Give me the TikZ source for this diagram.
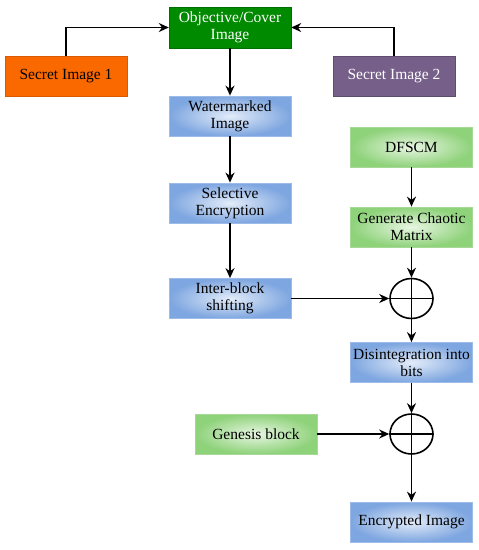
\documentclass[tikz,border=0pt]{standalone}
\usepackage{fontspec}
\setmainfont{Liberation Serif}
\usetikzlibrary{arrows.meta,shapes.geometric}
\definecolor{cvgreen}{HTML}{008A00}
\definecolor{cvgreenb}{HTML}{006E00}
\definecolor{sorange}{HTML}{FA6800}
\definecolor{sorangeb}{HTML}{D95A00}
\definecolor{spurple}{HTML}{76608A}
\definecolor{spurpleb}{HTML}{5E4D6E}
\definecolor{bout}{HTML}{7EA6E0}
\definecolor{bin}{HTML}{E3ECF9}
\definecolor{bborder}{HTML}{9DBBE8}
\definecolor{gout}{HTML}{8ED27A}
\definecolor{gin}{HTML}{E8F6E2}
\definecolor{gborder}{HTML}{A6D995}
\begin{document}
\begin{tikzpicture}[x=1pt,y=-1pt,
  box/.style={rectangle,minimum width=122pt,minimum height=40pt,inner sep=1pt,
    align=center,font=\fontsize{15.5}{17}\selectfont},
  bluebox/.style={box,draw=bborder,line width=0.8pt,shading=radial,inner color=bin,outer color=bout},
  greenbox/.style={box,draw=gborder,line width=0.8pt,shading=radial,inner color=gin,outer color=gout},
  xorn/.style={ellipse,draw,line width=1.6pt,minimum width=43pt,minimum height=40pt,inner sep=0pt},
  arr/.style={-{Stealth[length=10pt,width=9pt]},line width=1.6pt}]
\useasboundingbox (0,0) rectangle (479,550);
\node[box,fill=cvgreen,draw=cvgreenb,text=white,minimum height=41pt] (cover) at (230,27.5) {Objective/Cover\\Image};
\node[box,fill=sorange,draw=sorangeb,text=black] (s1) at (66,76) {Secret Image 1};
\node[box,fill=spurple,draw=spurpleb,text=white] (s2) at (394,76) {Secret Image 2};
\node[bluebox] (wm) at (230,116) {Watermarked\\Image};
\node[greenbox] (dfscm) at (411.5,147) {DFSCM};
\node[bluebox] (sel) at (230,203) {Selective\\Encryption};
\node[greenbox] (gcm) at (411.5,227) {Generate Chaotic\\Matrix};
\node[bluebox] (ibs) at (230,298.5) {Inter-block\\shifting};
\node[xorn] (x1) at (411.5,298.5) {};
\draw[line width=1.6pt] (x1.north) -- (x1.south) (x1.west) -- (x1.east);
\node[bluebox] (dib) at (411.5,362.5) {Disintegration into\\bits};
\node[xorn] (x2) at (411.5,434) {};
\draw[line width=1.6pt] (x2.north) -- (x2.south) (x2.west) -- (x2.east);
\node[greenbox] (gen) at (256,434) {Genesis block};
\node[bluebox] (enc) at (411.5,522) {Encrypted Image};
\draw[arr] (s1.north) |- (cover.west);
\draw[arr] (s2.north) |- (cover.east);
\draw[arr] (cover) -- (wm);
\draw[arr] (wm) -- (sel);
\draw[arr] (sel) -- (ibs);
\draw[arr] (dfscm) -- (gcm);
\draw[arr] (gcm) -- (x1.north);
\draw[arr] (ibs) -- (x1.west);
\draw[arr] (x1.south) -- (dib);
\draw[arr] (dib) -- (x2.north);
\draw[arr] (gen) -- (x2.west);
\draw[arr] (x2.south) -- (enc);
\end{tikzpicture}
\end{document}
